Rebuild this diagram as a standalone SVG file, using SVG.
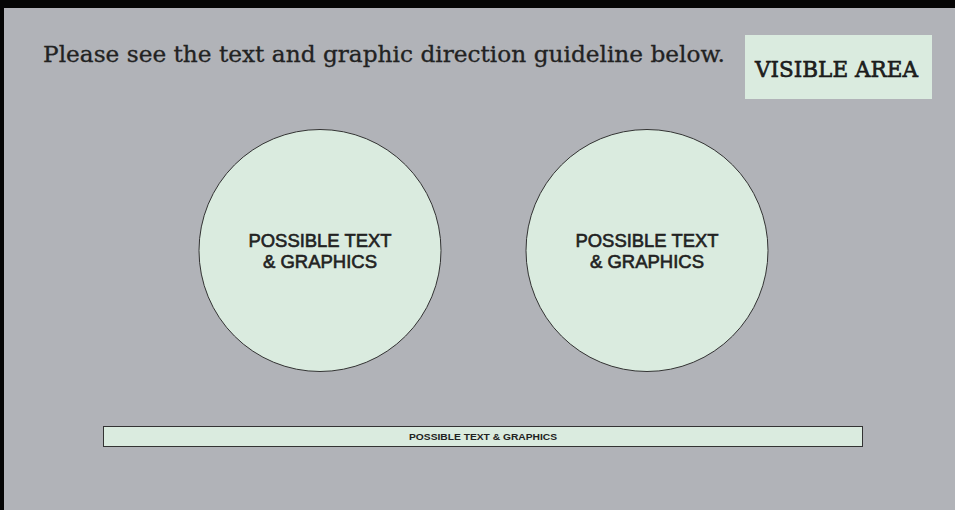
<svg xmlns="http://www.w3.org/2000/svg" width="955" height="510" viewBox="0 0 955 510">
<style>
.bg{fill:#b1b3b8}
.zone{fill:#daebdf;stroke:#333;stroke-width:1}
.slab{font-family:"DejaVu Serif","Liberation Serif",serif;fill:#222}
.sans{font-family:"Liberation Sans",Arial,sans-serif;fill:#222;text-anchor:middle}
.big{font-size:18px;stroke:#222;stroke-width:0.6}
</style>
<rect x="0" y="0" width="955" height="510" fill="#050505"/>
<rect class="bg" x="4" y="8" width="951" height="502"/>
<g id="title">
<text class="slab" x="43" y="62" font-size="22" stroke="#222" stroke-width="0.3" textLength="682" lengthAdjust="spacingAndGlyphs">Please see the text and graphic direction guideline below.</text>
</g>
<g id="visible-area">
<rect x="745" y="35" width="187" height="64" fill="#daebdf"/>
<text class="slab" x="755" y="77" font-size="23" fill="#111" stroke="#111" stroke-width="0.6" textLength="163" lengthAdjust="spacingAndGlyphs">VISIBLE AREA</text>
</g>
<g id="circle-left">
<circle class="zone" cx="320" cy="250.5" r="121"/>
<text class="sans big" x="320" y="247" textLength="143" lengthAdjust="spacingAndGlyphs">POSSIBLE TEXT</text>
<text class="sans big" x="320" y="268" textLength="114" lengthAdjust="spacingAndGlyphs">&amp; GRAPHICS</text>
</g>
<g id="circle-right">
<circle class="zone" cx="647" cy="250.5" r="121"/>
<text class="sans big" x="647" y="247" textLength="143" lengthAdjust="spacingAndGlyphs">POSSIBLE TEXT</text>
<text class="sans big" x="647" y="268" textLength="114" lengthAdjust="spacingAndGlyphs">&amp; GRAPHICS</text>
</g>
<g id="bar">
<rect class="zone" x="103.5" y="426.5" width="759" height="20" stroke="#444"/>
<text class="sans" x="483" y="440" font-size="9" font-weight="bold" textLength="148" lengthAdjust="spacingAndGlyphs">POSSIBLE TEXT &amp; GRAPHICS</text>
</g>
<g id="connectors"></g>
</svg>
